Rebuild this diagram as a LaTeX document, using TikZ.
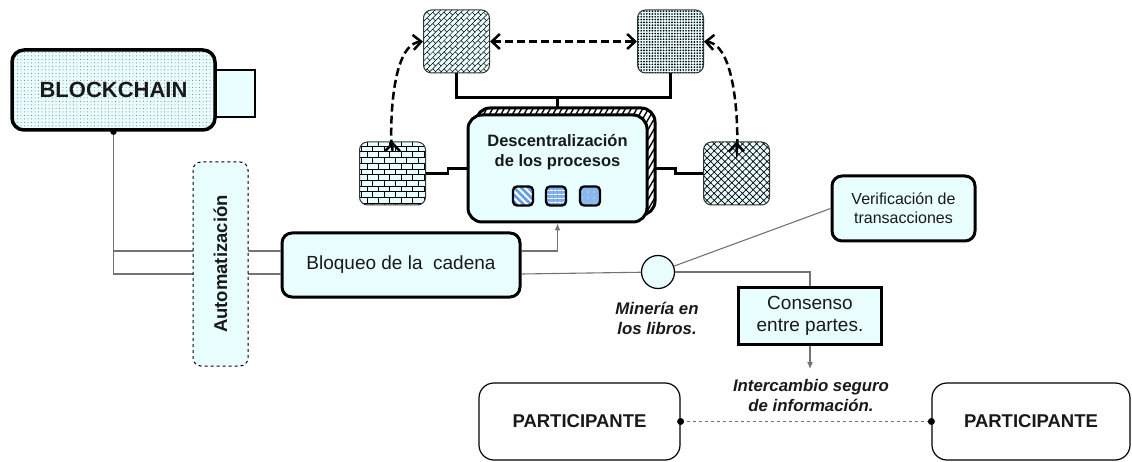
\documentclass[tikz,border=0pt]{standalone}
\usepackage{fontspec}
\setmainfont{Liberation Sans}
\usetikzlibrary{arrows.meta,patterns,patterns.meta}
\definecolor{lcyan}{RGB}{232,254,255}
\definecolor{iblue}{RGB}{100,160,230}
\pgfdeclarepattern{
	name=diagbricks,
	bottom left={\pgfpoint{-.5pt}{-.5pt}},
	top right={\pgfpoint{8.5pt}{8.5pt}},
	tile size={\pgfpoint{8pt}{8pt}},
	tile transformation={\pgftransformrotate{45}},
	code={
		\pgfsetlinewidth{.5pt}
		\pgfpathmoveto{\pgfpoint{0pt}{0pt}}\pgfpathlineto{\pgfpoint{8pt}{0pt}}
		\pgfpathmoveto{\pgfpoint{0pt}{4pt}}\pgfpathlineto{\pgfpoint{8pt}{4pt}}
		\pgfpathmoveto{\pgfpoint{0pt}{0pt}}\pgfpathlineto{\pgfpoint{0pt}{4pt}}
		\pgfpathmoveto{\pgfpoint{4pt}{4pt}}\pgfpathlineto{\pgfpoint{4pt}{8pt}}
		\pgfusepathqstroke
	}
}
\tikzset{
	box/.style={draw, line width=3pt, rounded corners=10pt, fill=lcyan, inner sep=0pt, align=center, text=black!90},
	tile/.style={draw=black!80, line width=1pt, rounded corners=8pt, minimum width=66pt, minimum height=63pt, preaction={fill=lcyan}},
	icon/.style={draw, line width=2.3pt, rounded corners=4pt, minimum width=20pt, minimum height=19pt},
	wire/.style={draw=black!55, line width=1.1pt},
	bus/.style={line width=2.5pt},
	link/.style={line width=2.5pt, dash pattern=on 8pt off 4pt},
	lbl/.style={font=\fontsize{16.8}{20}\selectfont\bfseries\itshape, align=center, text=black!90}
}
\begin{document}
\begin{tikzpicture}[x=1pt,y=-1pt,>={Straight Barb[length=8pt,width=15pt]}]
		\useasboundingbox (0,0) rectangle (1132,462);
		%blockchain
		\node[box, line width=2.5pt, sharp corners, minimum width=42pt, minimum height=47pt] (tab) at (234,93.5) {};
		\node[box, line width=3.5pt, rounded corners=12pt, minimum width=203pt, minimum height=80pt, preaction={fill=lcyan}, pattern={Dots[distance=3.5pt,radius=.5pt]}, pattern color=black!55, font=\fontsize{22}{26}\selectfont\bfseries] (chain) at (113.5,90) {BLOCKCHAIN};
		\node[box, minimum width=238pt, minimum height=64pt, font=\fontsize{19}{22}\selectfont] (bloq) at (401,265) {Bloqueo de la\ \ cadena};
		\draw[wire] (chain.south) |- ([yshift=14pt]bloq.west);
		\draw[wire] (chain.south) |- ([yshift=-9pt]bloq.west);
		\fill (chain.south) circle (3.2pt);
		\node[box, rotate=90, line width=1pt, dashed, rounded corners=8pt, minimum width=204pt, minimum height=55pt, font=\fontsize{18.5}{22}\selectfont\bfseries] (auto) at (220.5,264) {Automatización};
		
		%top
		\node[tile, pattern=diagbricks] (tl) at (456.5,41.5) {};
		\node[tile, pattern={Dots[distance=2.8pt,radius=.95pt]}] (tr) at (670.5,41.5) {};
		\node[tile, pattern=bricks] (lm) at (392.5,173.5) {};
		\node[tile, pattern={Hatch[angle=45,distance=5pt,line width=.7pt]}] (rm) at (736.5,173.5) {};
		\node[box, minimum width=179pt, minimum height=107pt, rounded corners=14pt, preaction={fill=white}, pattern={Lines[angle=60,distance=5pt,line width=1.4pt]}] (descb) at (565.5,161.5) {};
		\node[box, minimum width=179pt, minimum height=107pt, rounded corners=14pt] (desc) at (557.5,168.5) {};
		\node[font=\fontsize{16.5}{20}\selectfont\bfseries, align=center, text=black!90] (desctxt) at (557.5,152) {Descentralización\\de los procesos};
		\node[icon, preaction={fill=iblue}, pattern={Lines[angle=-45,distance=5pt,line width=2pt]}, pattern color=white] (ic1) at (523,196) {};
		\node[icon, preaction={fill=iblue!85}, pattern={Lines[angle=0,distance=4pt,line width=1.2pt]}, pattern color=white] (ic2) at (556,196) {};
		\node[icon, preaction={fill=iblue!75}, pattern={Dots[distance=6pt,radius=.6pt]}, pattern color=white] (ic3) at (590,196) {};
		\coordinate (junc) at (557.5,97);
		\draw[bus] (tl.south) -- ++(0,24) -| (tr.south);
		\draw[bus] (junc) -- (junc |- descb.north);
		\draw[bus] (lm.east) -- ++(22,0) |- (desc.west);
		\draw[bus] (desc.east -| descb.east) -- ++(20,0) |- (rm.west);
		\draw[link,<->] (tl.east) -- (tr.west);
		\draw[link,<->] (tl.west) to[out=185,in=-90] (lm.north);
		\draw[link,<->] (tr.east) to[out=-5,in=-90] (rm.north);
		\draw[wire,-{Latex[length=7pt,width=6pt]}] ([yshift=14pt]bloq.east) -| (desc.south);
		
		%right
		\node[box, minimum width=143pt, minimum height=65pt, font=\fontsize{16}{18.7}\selectfont] (verif) at (903.5,208.5) {Verificación de\\transacciones};
		\node[box, sharp corners, minimum width=143pt, minimum height=56pt, font=\fontsize{19}{21.5}\selectfont] (cons) at (810,316) {Consenso\\entre partes.};
		\node[circle, draw, line width=1.2pt, fill=lcyan, minimum size=33pt, inner sep=0pt] (mine) at (658,272) {};
		\draw[wire] ([yshift=-9pt]bloq.east) -- (mine);
		\draw[wire] (mine) -- (verif.west);
		\draw[wire] (mine.east) -| (cons.north);
		\node[lbl] (minelbl) at (657,318) {Minería en\\los libros.};
		
		%bottom
		\node[box, line width=1.2pt, rounded corners=15pt, fill=white, minimum width=201pt, minimum height=77pt, font=\fontsize{18.5}{22}\selectfont\bfseries] (p1) at (579.5,421.5) {PARTICIPANTE};
		\node[box, line width=1.2pt, rounded corners=15pt, fill=white, minimum width=198pt, minimum height=77pt, font=\fontsize{18.5}{22}\selectfont\bfseries] (p2) at (1031,421.5) {PARTICIPANTE};
		\node[lbl] (inter) at (811,395) {Intercambio seguro\\de información.};
		\coordinate (tip) at (810,369);
		\draw[wire,-{Latex[length=7pt,width=6pt]}] (cons.south) -- (tip);
		\draw[wire, dashed] (p1.east) -- (p2.west);
		\fill (p1.east) circle (3.5pt);
		\fill (p2.west) circle (3.5pt);
		
		\end{tikzpicture}
\end{document}
